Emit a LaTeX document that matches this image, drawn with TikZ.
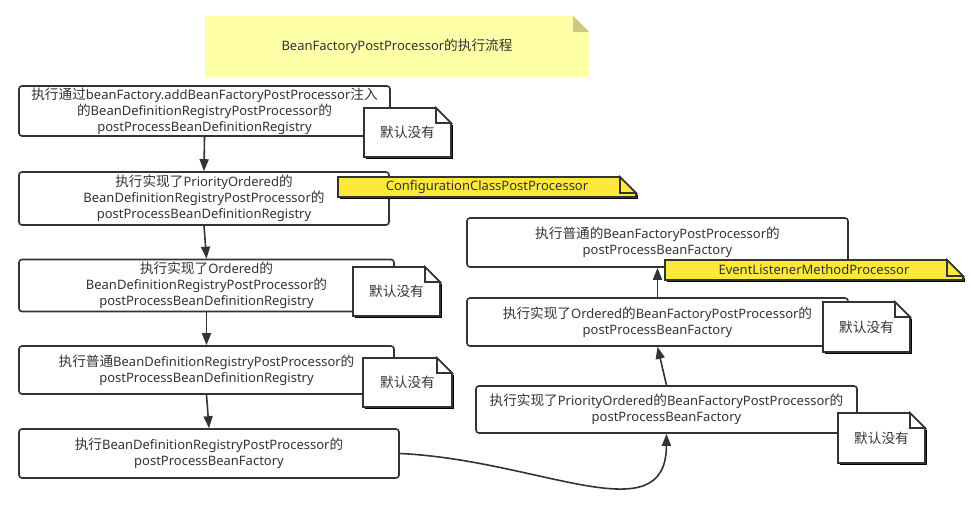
\documentclass[tikz,border=0pt]{standalone}
\usepackage{fontspec}
\setmainfont{Noto Sans}
\newfontfamily\cjkfont[Scale=1.05]{Noto Sans CJK SC}
\newcommand{\zh}[1]{{\cjkfont #1}}
\usetikzlibrary{arrows.meta}
\definecolor{ink}{HTML}{333333}
\definecolor{titlefill}{HTML}{FFFFA8}
\definecolor{titlefold}{HTML}{CCCC80}
\definecolor{hilite}{HTML}{FFE83C}
\definecolor{shade}{HTML}{D0D0D0}
\tikzset{
  stepbox/.style={draw=ink, line width=1.6pt, rounded corners=3pt, fill=white,
    align=center, text=ink, inner sep=0pt, font=\fontsize{13pt}{16.2pt}\selectfont},
  notebd/.style={draw=ink, line width=1.6pt, line join=miter},
  txt/.style={text=ink, align=center, inner sep=0pt, font=\fontsize{13pt}{16.2pt}\selectfont},
  arr/.style={draw=ink, line width=1.6pt, -{Triangle[length=12pt,width=9pt]}}
}
% name, x1, y1, x2, y2, fold, fill, text
\newcommand{\foldnote}[8]{%
  \draw[shade, line width=1pt] ({#2+1.5},{#5+1.8}) -- ({#4+1.8},{#5+1.8}) -- ({#4+1.8},{#3+#6+1.5});
  \filldraw[notebd, fill=#7] (#2,#3) -- ({#4-#6},#3) -- (#4,{#3+#6}) -- (#4,#5) -- (#2,#5) -- cycle;
  \filldraw[notebd, fill=#7] ({#4-#6},#3) -- ({#4-#6},{#3+#6}) -- (#4,{#3+#6}) -- cycle;
  \node[txt] (#1) at ({(#2+#4)/2},{(#3+#5)/2}) {#8};
}
\begin{document}
\begin{tikzpicture}[x=1pt,y=-1pt]
\useasboundingbox (0,0) rectangle (971,504);
\fill[white] (0,0) rectangle (971,504);

% title
\fill[titlefill] (205,16) -- (573,16) -- (589,32) -- (589,77) -- (205,77) -- cycle;
\fill[titlefold] (573,16) -- (573,32) -- (589,32) -- cycle;
\node[txt] (title) at (397,46.5) {BeanFactoryPostProcessor\zh{的执行流程}};

% left column
\node[stepbox, minimum width=371pt, minimum height=50pt] (b1) at (204.5,111)
  {\zh{执行通过}beanFactory.addBeanFactoryPostProcessor\zh{注入}\\\zh{的}BeanDefinitionRegistryPostProcessor\zh{的}\\postProcessBeanDefinitionRegistry};
\node[stepbox, minimum width=370pt, minimum height=53pt] (b2) at (204,198.5)
  {\zh{执行实现了}PriorityOrdered\zh{的}\\BeanDefinitionRegistryPostProcessor\zh{的}\\postProcessBeanDefinitionRegistry};
\node[stepbox, minimum width=375pt, minimum height=52pt] (b3) at (206.5,285.5)
  {\zh{执行实现了}Ordered\zh{的}\\BeanDefinitionRegistryPostProcessor\zh{的}\\postProcessBeanDefinitionRegistry};
\node[stepbox, minimum width=375pt, minimum height=48pt] (b4) at (206.5,370)
  {\zh{执行普通}BeanDefinitionRegistryPostProcessor\zh{的}\\postProcessBeanDefinitionRegistry};
\node[stepbox, minimum width=380pt, minimum height=49pt] (b5) at (209,453.5)
  {\zh{执行}BeanDefinitionRegistryPostProcessor\zh{的}\\postProcessBeanFactory};

% right column
\node[stepbox, minimum width=381pt, minimum height=47pt] (b6) at (666.5,409.5)
  {\zh{执行实现了}PriorityOrdered\zh{的}BeanFactoryPostProcessor\zh{的}\\postProcessBeanFactory};
\node[stepbox, minimum width=381pt, minimum height=48pt] (b7) at (657.5,322)
  {\zh{执行实现了}Ordered\zh{的}BeanFactoryPostProcessor\zh{的}\\postProcessBeanFactory};
\node[stepbox, minimum width=381pt, minimum height=49pt] (b8) at (657.5,242.5)
  {\zh{执行普通的}BeanFactoryPostProcessor\zh{的}\\postProcessBeanFactory};

% connectors
\draw[arr] (b1.south) -- (b2.north);
\draw[arr] (b2.south) -- (b3.north);
\draw[arr] (b3.south) -- (b4.north);
\draw[arr] (b4.south) -- (b5.north);
\draw[arr] (b5.east) .. controls (540,460) and (666,535) .. (b6.south);
\draw[arr] (b6.north) -- (b7.south);
\draw[arr] (b7.north) -- (b8.south);

% notes
\foldnote{n1}{364}{108}{451}{157}{15}{white}{\zh{默认没有}}
\foldnote{n2}{338}{177}{636}{197}{16}{hilite}{ConfigurationClassPostProcessor}
\foldnote{n3}{353}{267}{440}{316}{15}{white}{\zh{默认没有}}
\foldnote{n4}{363}{358}{452}{407}{15}{white}{\zh{默认没有}}
\foldnote{n6}{838}{413}{925}{463}{15}{white}{\zh{默认没有}}
\foldnote{n7}{823}{302}{910}{352}{15}{white}{\zh{默认没有}}
\foldnote{n8}{665}{260}{963}{280}{16}{hilite}{EventListenerMethodProcessor}
\end{tikzpicture}
\end{document}
